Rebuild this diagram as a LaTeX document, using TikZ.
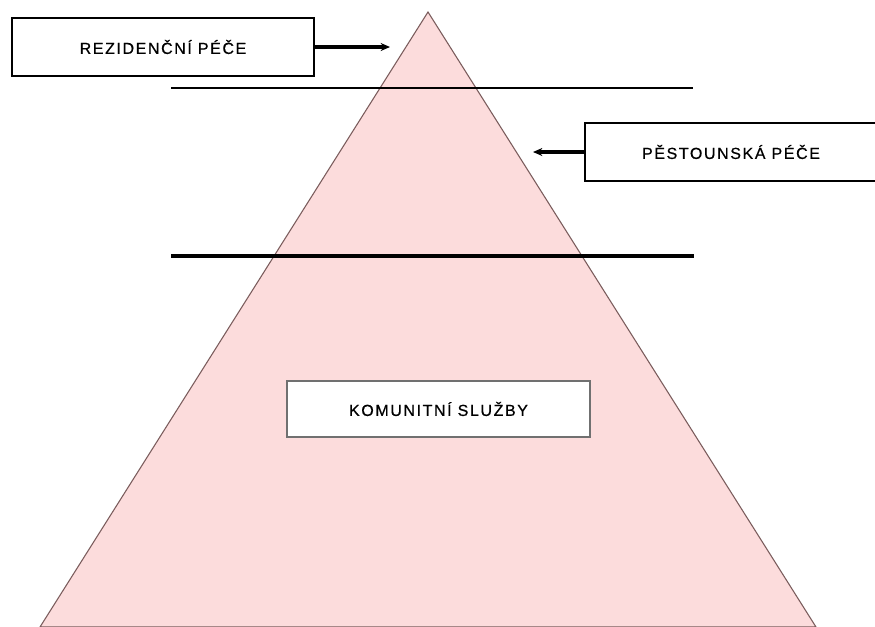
\documentclass[tikz,border=0pt]{standalone}
\usepackage{fontspec}
\setmainfont{Liberation Sans}[LetterSpace=10, FakeBold=0.6]
\usetikzlibrary{arrows.meta}
\definecolor{pyrfill}{HTML}{FCDCDC}
\definecolor{pyredge}{HTML}{7A5C5C}
\definecolor{boxgray}{HTML}{707070}
\tikzset{
  labelbox/.style={draw=black, line width=1.2pt, fill=white, inner sep=0pt,
    font=\fontsize{12}{14}\selectfont, minimum height=43.5pt},
  pointer/.style={line width=2.4pt, -{Stealth[length=7pt,width=6pt]}},
}
\begin{document}
\begin{tikzpicture}[x=0.75pt,y=-0.75pt]
\useasboundingbox (0,0) rectangle (875,626);
\clip (0,0) rectangle (875,626);
\fill[white] (0,0) rectangle (875,626);
% pyramid
\draw[fill=pyrfill, draw=pyredge, line width=0.8pt] (428,12) -- (816,627) -- (40,627) -- cycle;
% separating lines
\draw[black, line width=0.9pt] (171,88) -- (693,88);
\draw[black, line width=2.4pt] (171,256) -- (694,256);
% boxes
\node[labelbox, minimum width=226.5pt] (rez) at (163,47) {REZIDENČNÍ PÉČE};
\node[labelbox, minimum width=219pt] (pest) at (731,152) {PĚSTOUNSKÁ PÉČE};
\node[labelbox, draw=boxgray, line width=1.3pt, minimum width=227.25pt, minimum height=42pt] (kom) at (438.5,409) {KOMUNITNÍ SLUŽBY};
% arrows
\coordinate (rezTip) at (390,47);
\coordinate (pestTip) at (533,152);
\draw[pointer] (rez.east) -- (rezTip);
\draw[pointer] (pest.west) -- (pestTip);
\end{tikzpicture}
\end{document}
